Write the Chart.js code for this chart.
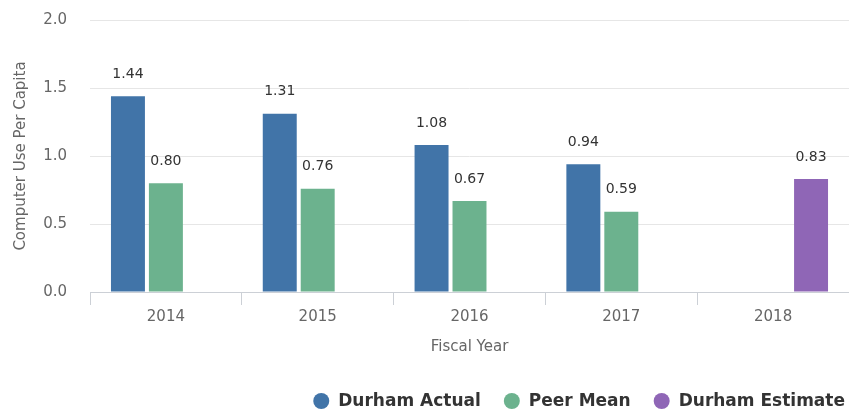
<!DOCTYPE html>
<html>
<head>
<meta charset="utf-8">
<script src="https://cdn.jsdelivr.net/npm/chart.js@4/dist/chart.umd.min.js"></script>
<style>
  html, body { margin: 0; padding: 0; background: #fff; }
  #wrap { width: 849px; height: 411px; }
</style>
</head>
<body>
<div id="wrap"><canvas id="chart"></canvas></div>
<script>
// data
const years = ['2014', '2015', '2016', '2017', '2018'];
const durhamActual = [1.44, 1.31, 1.08, 0.94, null];
const peerMean = [0.80, 0.76, 0.67, 0.59, null];
const durhamEstimate = [null, null, null, null, 0.83];
const yTicks = [0, 0.5, 1.0, 1.5, 2.0];

const FONT = "'DejaVu Sans', Verdana, sans-serif";

// value labels above bars
const barLabels = {
    id: 'barLabels',
    afterDatasetsDraw(chart) {
        const ctx = chart.ctx;
        ctx.save();
        ctx.font = '14px ' + FONT;
        ctx.fillStyle = '#333';
        ctx.textAlign = 'center';
        ctx.textBaseline = 'middle';
        chart.data.datasets.forEach(function (ds, i) {
            const meta = chart.getDatasetMeta(i);
            meta.data.forEach(function (bar, j) {
                const v = ds.data[j];
                if (v === null) return;
                ctx.fillText(v.toFixed(2), bar.x, bar.y - 22);
            });
        });
        ctx.restore();
    }
};

// legend bottom right, round markers
const bottomLegend = {
    id: 'bottomLegend',
    afterDraw(chart) {
        const ctx = chart.ctx;
        const y = 401;
        ctx.save();
        ctx.font = 'bold 17px ' + FONT;
        ctx.textBaseline = 'middle';
        let x = 845;
        const items = chart.data.datasets.slice().reverse();
        items.forEach(function (ds) {
            const w = ctx.measureText(ds.label).width;
            const textX = x - w;
            ctx.fillStyle = '#333';
            ctx.textAlign = 'left';
            ctx.fillText(ds.label, textX, y + 1);
            ctx.beginPath();
            ctx.arc(textX - 17, y, 8, 0, Math.PI * 2);
            ctx.fillStyle = ds.backgroundColor;
            ctx.fill();
            x = textX - 17 - 31;
        });
        ctx.restore();
    }
};

new Chart(document.getElementById('chart'), {
    type: 'bar',
    data: {
        labels: years,
        datasets: [
            { label: 'Durham Actual', data: durhamActual, backgroundColor: '#4174a8' },
            { label: 'Peer Mean', data: peerMean, backgroundColor: '#6cb28e' },
            { label: 'Durham Estimate', data: durhamEstimate, backgroundColor: '#8f66b6' }
        ]
    },
    options: {
        responsive: true,
        maintainAspectRatio: false,
        animation: false,
        categoryPercentage: 0.75,
        barPercentage: 0.895,
        layout: { padding: { top: 0, right: 0, bottom: 23, left: 0 } },
        plugins: {
            legend: { display: false },
            tooltip: { enabled: false }
        },
        scales: {
            x: {
                afterFit: function (scale) { scale.height = 96; },
                grid: {
                    display: true,
                    drawOnChartArea: false,
                    offset: true,
                    tickLength: 13,
                    color: '#ccd0d6'
                },
                border: { color: '#ccd0d6' },
                ticks: { color: '#666', font: { family: FONT, size: 15 }, padding: 3 },
                title: {
                    display: true,
                    text: 'Fiscal Year',
                    color: '#666',
                    font: { family: FONT, size: 15 },
                    padding: { top: 0, bottom: 32 }
                }
            },
            y: {
                min: 0,
                max: 2,
                afterFit: function (scale) {
                    scale.width = 90;
                    scale.paddingTop = 20;
                },
                afterBuildTicks: function (scale) {
                    scale.ticks = yTicks.map(function (v) { return { value: v }; });
                },
                grid: { color: '#e6e6e6', drawTicks: false },
                border: { display: false },
                ticks: {
                    color: '#666',
                    font: { family: FONT, size: 15 },
                    padding: 23,
                    callback: function (v) { return v.toFixed(1); }
                },
                title: {
                    display: true,
                    text: 'Computer Use Per Capita',
                    color: '#666',
                    font: { family: FONT, size: 15 },
                    padding: { top: 12, bottom: 0 }
                }
            }
        }
    },
    plugins: [barLabels, bottomLegend]
});
</script>
</body>
</html>
